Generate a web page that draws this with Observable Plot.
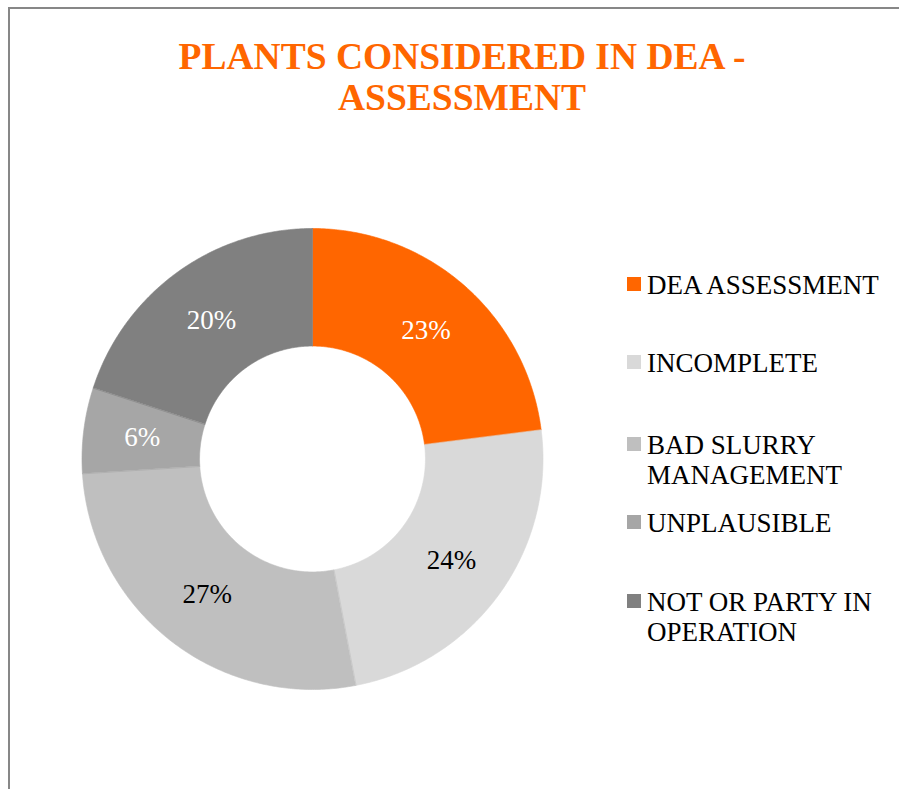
<!DOCTYPE html>
<html>
<head>
<meta charset="utf-8">
<script src="https://cdn.jsdelivr.net/npm/d3@7"></script>
<script src="https://cdn.jsdelivr.net/npm/@observablehq/plot@0.6"></script>
<style>
  html, body { margin: 0; padding: 0; background: white; }
  #wrap { position: relative; width: 899px; height: 789px; overflow: hidden; background: white; }
  #wrap svg { position: absolute; left: 0; top: 0; }
  #frame { position: absolute; left: 8px; top: 7px; width: 1200px; height: 1200px; border: 2px solid #878787; box-sizing: border-box; }
  #title { position: absolute; left: 0; top: 36px; width: 924px; text-align: center; font-family: "Liberation Serif", "Times New Roman", serif; font-weight: bold; font-size: 37.5px; line-height: 41px; color: #FF6600; white-space: nowrap; }
  .leg { position: absolute; left: 647px; width: 245px; font-family: "Liberation Serif", "Times New Roman", serif; font-size: 27px; line-height: 30px; color: #000; }
  .leg .sw { position: absolute; left: -20px; top: 7px; width: 14px; height: 14px; }
</style>
</head>
<body>
<div id="wrap">
  <div id="title">PLANTS CONSIDERED IN DEA -<br>ASSESSMENT</div>
</div>
<script>
const categories = ["DEA ASSESSMENT", "INCOMPLETE", "BAD SLURRY MANAGEMENT", "UNPLAUSIBLE", "NOT OR PARTY IN OPERATION"];
const shares = [23, 24, 27, 6, 20];
const colors = ["#FF6600", "#D9D9D9", "#BFBFBF", "#A6A6A6", "#808080"];

// layout
const innerRatio = 0.49;
const legendTops = [270, 348, 430, 508, 587];

const slices = d3.pie().sort(null).value((d) => d.value)(
  categories.map((cat, i) => ({cat, value: shares[i]}))
);

const ring = [];
for (const s of slices) {
  const n = Math.max(4, Math.ceil((s.endAngle - s.startAngle) / 0.01));
  for (let k = 0; k <= n; k++) {
    const a = s.startAngle + (s.endAngle - s.startAngle) * k / n;
    ring.push({cat: s.data.cat, x: Math.sin(a), y: Math.cos(a)});
  }
  for (let k = n; k >= 0; k--) {
    const a = s.startAngle + (s.endAngle - s.startAngle) * k / n;
    ring.push({cat: s.data.cat, x: innerRatio * Math.sin(a), y: innerRatio * Math.cos(a)});
  }
}

const labels = slices.map((s) => {
  const a = (s.startAngle + s.endAngle) / 2;
  const r = (1 + innerRatio) / 2;
  return {cat: s.data.cat, value: s.data.value, x: r * Math.sin(a), y: r * Math.cos(a)};
});

const colorOf = (cat) => colors[categories.indexOf(cat)];

const chart = Plot.plot({
  width: 899,
  height: 789,
  margin: 0,
  style: {background: "transparent"},
  x: {domain: [-1, 1], range: [81.5, 542.5], axis: null},
  y: {domain: [-1, 1], range: [689, 228], axis: null},
  color: {domain: categories, range: colors},
  marks: [
    Plot.line(ring, {x: "x", y: "y", z: "cat", fill: "cat", stroke: "cat", strokeWidth: 0.6, curve: "linear-closed"}),
    Plot.text(labels, {
      x: "x", y: "y",
      text: (d) => d.value + "%",
      fill: (d) => d3.lab(colorOf(d.cat)).l < 70 ? "white" : "black",
      fontSize: 27,
      fontFamily: "Liberation Serif, Times New Roman, serif"
    })
  ]
});

const wrap = document.getElementById("wrap");
wrap.appendChild(chart);

categories.forEach((cat, i) => {
  const div = document.createElement("div");
  div.className = "leg";
  div.style.top = legendTops[i] + "px";
  const sw = document.createElement("span");
  sw.className = "sw";
  sw.style.background = colors[i];
  div.appendChild(sw);
  div.appendChild(document.createTextNode(cat));
  wrap.appendChild(div);
});

const frame = document.createElement("div");
frame.id = "frame";
wrap.appendChild(frame);
</script>
</body>
</html>
